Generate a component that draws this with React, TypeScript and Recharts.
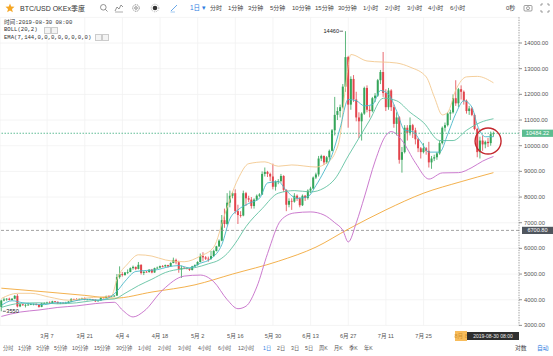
import React from "react";
import {
  ComposedChart,
  Bar,
  Line,
  XAxis,
  YAxis,
  CartesianGrid,
  ReferenceLine,
  ReferenceDot,
} from "recharts";

type Ohlc = [number, number, number, number];

// Daily candles [open, high, low, close]
const febOhlc: Ohlc[] = [
  [3720, 4000, 3550, 3970], [3970, 4080, 3940, 4010], [4010, 4060, 3960, 4040],
  [4040, 4080, 3970, 3990], [3990, 4060, 3970, 4040], [4040, 4180, 4020, 4150],
  [4150, 4220, 3700, 3740], [3740, 3850, 3710, 3820], [3820, 3840, 3760, 3790],
  [3790, 3830, 3700, 3800], [3800, 3880, 3770, 3810],
];
const marOhlc: Ohlc[] = [
  [3810, 3860, 3790, 3830], [3830, 3850, 3780, 3840], [3840, 3850, 3780, 3800],
  [3800, 3820, 3690, 3720], [3720, 3880, 3710, 3860], [3860, 3900, 3830, 3870],
  [3870, 3920, 3850, 3890], [3890, 3940, 3840, 3870], [3870, 3960, 3860, 3940],
  [3940, 3950, 3890, 3920], [3920, 3930, 3840, 3860], [3860, 3900, 3830, 3880],
  [3880, 3900, 3850, 3870], [3870, 3920, 3840, 3880], [3880, 3940, 3870, 3930],
  [3930, 4060, 3920, 4030], [4030, 4040, 3980, 4000], [4000, 4060, 3980, 3990],
  [3990, 4050, 3980, 4030], [4030, 4080, 4000, 4060], [4060, 4090, 3980, 4000],
  [4000, 4030, 3990, 4010], [4010, 4040, 4000, 4020], [4020, 4030, 3980, 4000],
  [4000, 4010, 3910, 3940], [3940, 3980, 3930, 3970], [3970, 4100, 3960, 4090],
  [4090, 4100, 4050, 4070], [4070, 4160, 4060, 4140], [4140, 4170, 4100, 4130],
  [4130, 4150, 4110, 4130],
];
const aprOhlc: Ohlc[] = [
  [4130, 4180, 4110, 4160], [4160, 5000, 4150, 4880], [4880, 5300, 4820, 5000],
  [5000, 5080, 4900, 4960], [4960, 5080, 4940, 5060], [5060, 5180, 5000, 5080],
  [5080, 5260, 5070, 5230], [5230, 5330, 5170, 5280], [5280, 5290, 5150, 5200],
  [5200, 5470, 5180, 5360], [5360, 5380, 4980, 5040], [5040, 5110, 4960, 5090],
  [5090, 5120, 5060, 5080], [5080, 5190, 5050, 5170], [5170, 5200, 5030, 5060],
  [5060, 5250, 5050, 5230], [5230, 5290, 5200, 5250], [5250, 5330, 5230, 5310],
  [5310, 5350, 5260, 5300], [5300, 5370, 5280, 5350], [5350, 5360, 5250, 5300],
  [5300, 5460, 5280, 5430], [5430, 5640, 5420, 5550], [5550, 5600, 5380, 5460],
  [5460, 5520, 5050, 5180], [5180, 5330, 4850, 5240], [5240, 5280, 5200, 5230],
  [5230, 5260, 5180, 5210], [5210, 5230, 5120, 5160], [5160, 5320, 5140, 5300],
];
const mayOhlc: Ohlc[] = [
  [5300, 5380, 5280, 5350], [5350, 5500, 5330, 5470], [5470, 5800, 5450, 5700],
  [5700, 5850, 5500, 5650], [5650, 5700, 5550, 5600], [5600, 5680, 5480, 5580],
  [5580, 5900, 5570, 5700], [5700, 5950, 5680, 5900], [5900, 6100, 5880, 6080],
  [6080, 6350, 6050, 6300], [6300, 7300, 6280, 7100], [7100, 7550, 6800, 6950],
  [6950, 8150, 6900, 7780], [7780, 8250, 7600, 8050], [8050, 8200, 7950, 8150],
  [8150, 8300, 7350, 7450], [7450, 7700, 6950, 7300], [7300, 7450, 7200, 7280],
  [7280, 8250, 7250, 8150], [8150, 8200, 7650, 7950], [7950, 8050, 7800, 7900],
  [7900, 8000, 7550, 7650], [7650, 7950, 7550, 7900], [7900, 8100, 7850, 8050],
  [8050, 8150, 8000, 8100], [8100, 9000, 8080, 8900], [8900, 9150, 8800, 8980],
  [8980, 9020, 8780, 8900], [8900, 8950, 8620, 8800], [8800, 9300, 8300, 8400],
  [8400, 8650, 8250, 8600],
];
const junOhlc: Ohlc[] = [
  [8600, 8700, 8500, 8620], [8620, 8900, 8560, 8820], [8820, 8850, 8200, 8280],
  [8280, 8300, 7450, 7700], [7700, 7950, 7600, 7850], [7850, 7950, 7500, 7820],
  [7820, 8150, 7780, 8050], [8050, 8100, 7850, 7950], [7950, 7990, 7600, 7680],
  [7680, 8100, 7650, 8050], [8050, 8080, 7850, 7960], [7960, 8300, 7900, 8250],
  [8250, 8400, 8150, 8330], [8330, 8800, 8300, 8760], [8760, 8950, 8700, 8880],
  [8880, 9600, 8800, 9500], [9500, 9650, 9400, 9600], [9600, 9620, 9250, 9350],
  [9350, 9600, 9300, 9550], [9550, 9850, 9450, 9800], [9800, 10650, 9780, 10600],
  [10600, 11900, 10400, 11200], [11200, 11500, 11000, 11350], [11350, 11600, 11100, 11500],
  [11500, 12400, 11450, 12300], [12300, 14460, 12100, 13450], [13450, 13500, 10700, 11600],
  [11600, 12700, 11400, 12600], [12600, 12750, 11700, 11800], [11800, 12100, 10950, 11100],
];
const julOhlc: Ohlc[] = [
  [11100, 11300, 10300, 10950], [10950, 11300, 10200, 11250], [11250, 12300, 11200, 12250],
  [12250, 12350, 11300, 11400], [11400, 11550, 11100, 11350], [11350, 11900, 11300, 11850],
  [11850, 12050, 11700, 11950], [11950, 12600, 11900, 12550], [12550, 12950, 12400, 12870],
  [12870, 13650, 11900, 12050], [12050, 12200, 11350, 11500], [11500, 12250, 11400, 12150],
  [12150, 12200, 11350, 11500], [11500, 11600, 10700, 10850], [10850, 11300, 10400, 11100],
  [11100, 11150, 9300, 9450], [9450, 9950, 8950, 9750], [9750, 10800, 9700, 10700],
  [10700, 10800, 10200, 10500], [10500, 11100, 10400, 10800], [10800, 10850, 10300, 10600],
  [10600, 10700, 10050, 10250], [10250, 10300, 9750, 9900], [9900, 9950, 9500, 9750],
  [9750, 10100, 9700, 9900], [9900, 9950, 9650, 9800], [9800, 10150, 9150, 9350],
  [9350, 9600, 9100, 9500], [9500, 9650, 9400, 9550], [9550, 9750, 9450, 9700],
  [9700, 10200, 9650, 10100],
];
const augOhlc: Ohlc[] = [
  [10100, 10750, 10050, 10700], [10700, 10900, 10550, 10800], [10800, 11300, 10750, 11250],
  [11250, 11400, 11000, 11300], [11300, 12000, 11250, 11850], [11850, 12550, 11550, 11650],
  [11650, 12250, 11500, 12200], [12200, 12350, 11800, 12100], [12100, 12150, 11600, 11750],
  [11750, 11800, 11250, 11350], [11350, 11550, 11200, 11450], [11450, 11500, 11150, 11200],
  [11200, 11250, 10600, 10650], [10650, 10700, 9550, 9750], [9750, 10350, 9500, 10200],
  [10200, 10400, 9800, 10050], [10050, 10200, 9900, 10150], [10150, 10300, 9950, 10100],
  [10100, 10550, 10000, 10450], [10450, 10550, 10350, 10484.22],
];

const monthBlocks = [
  { month: 2, firstDay: 18, rows: febOhlc },
  { month: 3, firstDay: 1, rows: marOhlc },
  { month: 4, firstDay: 1, rows: aprOhlc },
  { month: 5, firstDay: 1, rows: mayOhlc },
  { month: 6, firstDay: 1, rows: junOhlc },
  { month: 7, firstDay: 1, rows: julOhlc },
  { month: 8, firstDay: 1, rows: augOhlc },
];

// Indicator readings (date key -> value)
const bollUpperPts: [string, number][] = [
  ["2-18", 4050], ["2-24", 4250], ["3-1", 4250], ["3-8", 4100], ["3-15", 3980], ["3-22", 4070],
  ["3-31", 4160], ["4-2", 4800], ["4-6", 5400], ["4-10", 5750], ["4-15", 5700], ["4-20", 5550],
  ["4-27", 5480], ["5-3", 5700], ["5-8", 6050], ["5-12", 7300], ["5-17", 8700], ["5-21", 9300],
  ["5-27", 9370], ["6-1", 9200], ["6-6", 9250], ["6-15", 9170], ["6-19", 9330], ["6-22", 9700],
  ["6-24", 10400], ["6-26", 12300], ["6-28", 13550], ["7-4", 13300], ["7-15", 13220], ["7-20", 13060],
  ["7-26", 12680], ["7-29", 11900], ["8-1", 11200], ["8-3", 11300], ["8-6", 12170], ["8-10", 12680],
  ["8-14", 12700], ["8-20", 12450],
];
const bollMidPts: [string, number][] = [
  ["2-18", 3700], ["2-25", 3860], ["3-4", 3880], ["3-11", 3840], ["3-18", 3880], ["3-25", 3980],
  ["4-1", 4030], ["4-5", 4250], ["4-10", 4550], ["4-15", 4800], ["4-20", 5060], ["4-26", 5200],
  ["5-1", 5250], ["5-6", 5400], ["5-10", 5550], ["5-13", 5800], ["5-16", 6200], ["5-20", 6850],
  ["5-26", 7550], ["6-1", 8150], ["6-7", 8250], ["6-13", 8200], ["6-18", 8350], ["6-22", 8700],
  ["6-27", 9600], ["7-1", 10300], ["7-5", 11000], ["7-10", 11850], ["7-15", 11750], ["7-20", 11300],
  ["7-25", 10900], ["7-31", 10200], ["8-5", 10200], ["8-10", 10600], ["8-15", 10900], ["8-20", 11050],
];
const bollLowerPts: [string, number][] = [
  ["2-18", 3350], ["2-25", 3520], ["3-4", 3600], ["3-11", 3700], ["3-18", 3760], ["3-25", 3850],
  ["4-1", 3900], ["4-4", 3600], ["4-8", 3330], ["4-12", 3550], ["4-19", 4380], ["4-27", 4920],
  ["5-3", 4960], ["5-8", 4700], ["5-13", 4000], ["5-17", 3650], ["5-20", 3750], ["5-24", 4500],
  ["5-28", 5800], ["6-2", 7100], ["6-7", 7380], ["6-13", 7420], ["6-18", 7300], ["6-22", 7000],
  ["6-25", 6700], ["6-27", 6250], ["6-30", 7000], ["7-3", 8000], ["7-7", 9400], ["7-11", 10400],
  ["7-13", 10550], ["7-17", 10200], ["7-22", 9330], ["7-27", 8700], ["8-1", 8940], ["8-7", 8950],
  ["8-12", 9150], ["8-16", 9400], ["8-20", 9580],
];
const ema7Pts: [string, number][] = [
  ["2-18", 3780], ["2-22", 3960], ["2-26", 3880], ["3-2", 3830], ["3-6", 3810], ["3-10", 3880],
  ["3-14", 3880], ["3-18", 3970], ["3-22", 4020], ["3-26", 3980], ["3-30", 4080], ["4-2", 4330],
  ["4-5", 4720], ["4-9", 5100], ["4-13", 5140], ["4-17", 5170], ["4-21", 5280], ["4-25", 5330],
  ["4-29", 5240], ["5-3", 5420], ["5-7", 5600], ["5-11", 6150], ["5-14", 7150], ["5-17", 7500],
  ["5-21", 7750], ["5-25", 7950], ["5-28", 8550], ["6-1", 8600], ["6-4", 8250], ["6-8", 7950],
  ["6-12", 8020], ["6-15", 8450], ["6-18", 9000], ["6-21", 9650], ["6-24", 10700], ["6-27", 11800],
  ["6-30", 11750], ["7-3", 11550], ["7-6", 11600], ["7-9", 12150], ["7-12", 12000], ["7-15", 11350],
  ["7-18", 10600], ["7-21", 10550], ["7-24", 10150], ["7-27", 9750], ["7-31", 9750], ["8-3", 10450],
  ["8-6", 11250], ["8-9", 11750], ["8-12", 11500], ["8-14", 10800], ["8-17", 10350], ["8-20", 10350],
];
const ema144Pts: [string, number][] = [
  ["2-18", 4450], ["3-7", 4300], ["3-21", 4170], ["4-1", 4060], ["4-15", 4300], ["5-1", 4580],
  ["5-15", 5000], ["6-1", 5500], ["6-15", 6050], ["6-27", 6750], ["7-11", 7500], ["7-25", 8150],
  ["8-8", 8600], ["8-20", 8950],
];

const xTickDates = ["3-7", "3-21", "4-4", "4-18", "5-2", "5-16", "5-30", "6-13", "6-27", "7-11", "7-25", "8-8"];
const yTickValues = [3000, 4000, 5000, 6000, 7000, 8000, 9000, 10000, 11000, 12000, 13000, 14000];

const lastPrice = 10484.22;
const markPrice = 6700.8;
const highDate = "6-26";
const highPrice = 14460;
const lowDate = "2-18";
const lowPrice = 3550;
const circleDate = "8-18";
const circlePrice = 10180;

const topMenu = ["分时", "1分钟", "3分钟", "5分钟", "10分钟", "15分钟", "30分钟", "1小时", "2小时", "3小时", "4小时", "6小时"];
const topMenuX = [210, 228, 248, 270, 292, 315, 338, 363, 385, 407, 428, 450];
const bottomMenu = ["分时", "1分钟", "3分钟", "5分钟", "10分钟", "15分钟", "30分钟", "1小时", "2小时", "3小时", "4小时", "6小时", "12小时", "1日", "2日", "3日", "5日", "周K", "月K", "季K", "年K"];
const bottomMenuX = [3, 18, 36, 54, 72, 94, 116, 138, 158, 178, 198, 218, 238, 263, 277, 291, 305, 319, 334, 349, 364];

// ---------- build table ----------
type Row = { key: string; o: number; h: number; l: number; c: number; [k: string]: any };
const rows: Row[] = [];
monthBlocks.forEach((b) =>
  b.rows.forEach((r, i) =>
    rows.push({ key: `${b.month}-${b.firstDay + i}`, o: r[0], h: r[1], l: r[2], c: r[3] })
  )
);
const byKey = new Map(rows.map((r) => [r.key, r]));
const attach = (pts: [string, number][], field: string) =>
  pts.forEach(([k, v]) => {
    const r = byKey.get(k);
    if (r) r[field] = v;
  });
attach(bollUpperPts, "bu");
attach(bollMidPts, "bm");
attach(bollLowerPts, "bl");
attach(ema7Pts, "e7");
attach(ema144Pts, "e144");

const GREEN = "#35a55a";
const RED = "#e2444c";
const FONT = "'Liberation Sans','Noto Sans CJK SC',sans-serif";
const MONO = "'Liberation Mono','DejaVu Sans Mono','Noto Sans CJK SC',monospace";

function Candle(props: any) {
  const { x, y, width, height, payload } = props;
  if (!payload || payload.o == null) return null;
  const { o, h, l, c } = payload;
  const cx = x + width / 2;
  const span = h - l;
  const toY = (v: number) => (span === 0 ? y : y + ((h - v) / span) * height);
  const top = toY(Math.max(o, c));
  const bot = toY(Math.min(o, c));
  const color = c >= o ? GREEN : RED;
  return (
    <g>
      <line x1={cx} x2={cx} y1={y} y2={y + height} stroke={color} strokeWidth={0.8} />
      <rect x={cx - 1} y={top} width={2} height={Math.max(bot - top, 0.8)} fill={color} />
    </g>
  );
}

function PriceTag(props: any) {
  const { viewBox, text, fill } = props;
  if (!viewBox) return null;
  const x = viewBox.x + viewBox.width + 3;
  const y = viewBox.y;
  return (
    <g>
      <rect x={x} y={y - 3.6} width={31} height={7.2} fill={fill} />
      <text x={x + 15.5} y={y + 2} textAnchor="middle" fontSize={5.6} fill="#fff" fontFamily={FONT}>
        {text}
      </text>
    </g>
  );
}

function HighLabel(props: any) {
  const { viewBox } = props;
  if (!viewBox) return null;
  const cx = viewBox.x + viewBox.width / 2;
  const cy = viewBox.y + viewBox.height / 2;
  return (
    <g>
      <line x1={cx - 6} x2={cx - 2.5} y1={cy} y2={cy} stroke="#333" strokeWidth={0.7} />
      <text x={cx - 6.5} y={cy + 2} textAnchor="end" fontSize={5.6} fill="#222" fontFamily={FONT}>
        {String(highPrice)}
      </text>
    </g>
  );
}

function LowLabel(props: any) {
  const { viewBox } = props;
  if (!viewBox) return null;
  const cx = viewBox.x + viewBox.width / 2;
  const cy = viewBox.y + viewBox.height / 2;
  return (
    <g>
      <line x1={cx + 1.5} x2={cx + 4.5} y1={cy} y2={cy} stroke="#333" strokeWidth={0.7} />
      <text x={cx + 5} y={cy + 2} textAnchor="start" fontSize={5.6} fill="#222" fontFamily={FONT}>
        {String(lowPrice)}
      </text>
    </g>
  );
}

function XTick(props: any) {
  const { x, y, payload } = props;
  const [m, d] = String(payload.value).split("-");
  return (
    <text x={x} y={y + 12.6} textAnchor="middle" fontSize={5.6} fill="#555" fontFamily={FONT}>
      {`${m}月 ${d}`}
    </text>
  );
}

const Icon = ({ x, children }: { x: number; children: React.ReactNode }) => (
  <svg style={{ position: "absolute", left: x, top: 3 }} width={10} height={10} viewBox="0 0 10 10">
    {children}
  </svg>
);

export default function App() {
  const abs = (left: number, top: number, extra: React.CSSProperties = {}): React.CSSProperties => ({
    position: "absolute",
    left,
    top,
    whiteSpace: "nowrap",
    lineHeight: 1,
    ...extra,
  });
  return (
    <div
      style={{
        position: "fixed",
        left: 0,
        top: 0,
        width: 553,
        height: 356,
        background: "#fff",
        overflow: "hidden",
        fontFamily: FONT,
      }}
    >
      <ComposedChart
        width={553}
        height={356}
        data={rows}
        margin={{ top: 17.33, right: 0, bottom: 18.6, left: 0 }}
      >
        <CartesianGrid stroke="#f1f1f1" strokeWidth={0.8} />
        <XAxis
          dataKey="key"
          ticks={xTickDates}
          interval={0}
          axisLine={false}
          tickLine={false}
          tickSize={0}
          tickMargin={0}
          height={12}
          padding={{ left: 0, right: 24.2 }}
          tick={<XTick />}
        />
        <YAxis
          orientation="right"
          width={34}
          domain={[3000, 15000]}
          ticks={yTickValues}
          allowDataOverflow
          axisLine={{ stroke: "#777", strokeDasharray: "1 1.5", strokeWidth: 0.8 }}
          tickLine={{ stroke: "#777", strokeWidth: 0.8 }}
          tickSize={3}
          tickMargin={2}
          tick={{ fontSize: 5.8, fill: "#555", fontFamily: FONT }}
          tickFormatter={(v: number) => v.toFixed(2)}
        />
        <ReferenceLine
          y={markPrice}
          stroke="#8a8a8a"
          strokeDasharray="3 2"
          strokeWidth={0.8}
          label={<PriceTag text="6700.80" fill="#50565e" />}
        />
        <ReferenceLine
          y={lastPrice}
          stroke="#4fb58a"
          strokeDasharray="1.5 1.5"
          strokeWidth={0.9}
          label={<PriceTag text="10484.22" fill="#5cbd90" />}
        />
        <Bar
          dataKey={(d: Row) => [d.l, d.h]}
          shape={<Candle />}
          isAnimationActive={false}
        />
        <Line dataKey="e144" stroke="#f2a83a" strokeWidth={0.9} dot={false} connectNulls type="monotone" isAnimationActive={false} />
        <Line dataKey="bu" stroke="#f3c88e" strokeWidth={0.9} dot={false} connectNulls type="monotone" isAnimationActive={false} />
        <Line dataKey="bl" stroke="#c56cc8" strokeWidth={0.9} dot={false} connectNulls type="monotone" isAnimationActive={false} />
        <Line dataKey="bm" stroke="#62c2a2" strokeWidth={0.9} dot={false} connectNulls type="monotone" isAnimationActive={false} />
        <Line dataKey="e7" stroke="#48b8c8" strokeWidth={0.9} dot={false} connectNulls type="monotone" isAnimationActive={false} />
        <ReferenceDot x={highDate} y={highPrice} r={0} fill="none" stroke="none" ifOverflow="visible" label={<HighLabel />} />
        <ReferenceDot x={lowDate} y={lowPrice} r={0} fill="none" stroke="none" ifOverflow="visible" label={<LowLabel />} />
        <ReferenceDot
          x={circleDate}
          y={circlePrice}
          r={13}
          fill="none"
          stroke="#c4282e"
          strokeWidth={1.4}
          ifOverflow="visible"
        />
      </ComposedChart>

      {/* top toolbar */}
      <svg style={{ position: "absolute", left: 5, top: 3 }} width={10} height={10} viewBox="0 0 10 10">
        <polygon points="5,0.5 6.2,3.6 9.5,3.8 7,5.9 7.8,9.2 5,7.4 2.2,9.2 3,5.9 0.5,3.8 3.8,3.6" fill="#f5a623" />
      </svg>
      <div style={abs(20, 4.5, { fontSize: 7, color: "#333" })}>BTC/USD OKEx季度</div>
      <Icon x={99}>
        <circle cx={4.3} cy={4.3} r={2.8} fill="none" stroke="#777" strokeWidth={0.8} />
        <line x1={6.3} y1={6.3} x2={8.5} y2={8.5} stroke="#777" strokeWidth={0.8} />
      </Icon>
      <Icon x={114}>
        <polyline points="1,8 3,4 5,6 7,2 9,4" fill="none" stroke="#777" strokeWidth={0.8} />
        <line x1={1} y1={9} x2={9} y2={9} stroke="#777" strokeWidth={0.6} />
      </Icon>
      <Icon x={131}>
        <circle cx={5} cy={5} r={3.3} fill="none" stroke="#777" strokeWidth={0.8} strokeDasharray="1.5 0.8" />
        <circle cx={5} cy={5} r={1.3} fill="none" stroke="#777" strokeWidth={0.8} />
      </Icon>
      <Icon x={150}>
        <circle cx={5} cy={5} r={2.3} fill="#333" />
        <circle cx={5} cy={5} r={3.8} fill="none" stroke="#777" strokeWidth={0.6} strokeDasharray="1 1" />
      </Icon>
      <Icon x={169}>
        <line x1={2} y1={8} x2={8} y2={2} stroke="#6aa8e8" strokeWidth={1} />
        <line x1={1.5} y1={9} x2={6} y2={9} stroke="#6aa8e8" strokeWidth={0.6} />
      </Icon>
      <div style={abs(190, 5, { fontSize: 6.5, color: "#2f7de1" })}>1日 ▾</div>
      {topMenu.map((t, i) => (
        <div key={t} style={abs(topMenuX[i], 5, { fontSize: 6, color: "#444" })}>
          {t}
        </div>
      ))}
      <div style={abs(506, 5, { fontSize: 6, color: "#444" })}>0秒</div>
      <Icon x={523}>
        <rect x={1} y={2.5} width={8} height={5.5} rx={1} fill="none" stroke="#777" strokeWidth={0.7} />
        <circle cx={5} cy={5.2} r={1.5} fill="none" stroke="#777" strokeWidth={0.7} />
      </Icon>
      <Icon x={540}>
        <polyline points="1,3 1,1 3,1" fill="none" stroke="#777" strokeWidth={0.7} />
        <polyline points="7,1 9,1 9,3" fill="none" stroke="#777" strokeWidth={0.7} />
        <polyline points="1,7 1,9 3,9" fill="none" stroke="#777" strokeWidth={0.7} />
        <polyline points="7,9 9,9 9,7" fill="none" stroke="#777" strokeWidth={0.7} />
      </Icon>

      {/* indicator legend */}
      <div style={abs(4, 19.5, { fontSize: 5.6, color: "#333", fontFamily: MONO })}>时间:2019-08-30 08:00</div>
      <div style={abs(4, 27, { fontSize: 5.6, color: "#333", fontFamily: MONO })}>BOLL(20,2)</div>
      <div style={abs(44, 26.5, { width: 5, height: 5, border: "0.6px solid #ccc", background: "#f4f4f4" })} />
      <div style={abs(51, 26.5, { width: 5, height: 5, border: "0.6px solid #ccc", background: "#f4f4f4" })} />
      <div style={abs(4, 34.5, { fontSize: 5.6, color: "#333", fontFamily: MONO })}>EMA(7,144,0,0,0,0,0,0,0,0)</div>
      <div style={abs(95, 34, { width: 5, height: 5, border: "0.6px solid #ccc", background: "#f4f4f4" })} />
      <div style={abs(102, 34, { width: 5, height: 5, border: "0.6px solid #ccc", background: "#f4f4f4" })} />

      {/* bottom time box */}
      <div style={abs(455, 331, { width: 12, height: 10, background: "rgba(245,166,35,0.75)" })} />
      <div
        style={abs(467, 332, {
          width: 52,
          height: 8,
          background: "#2f2f2f",
          color: "#eee",
          fontSize: 5,
          textAlign: "center",
          lineHeight: "8px",
        })}
      >
        2019-08-30 08:00
      </div>

      {/* bottom menu */}
      {bottomMenu.map((t, i) => (
        <div
          key={t + i}
          style={abs(bottomMenuX[i], 346, { fontSize: 5.2, color: t === "1日" ? "#2f7de1" : "#555" })}
        >
          {t}
        </div>
      ))}
      <div style={abs(515, 346, { fontSize: 5.8, color: "#444" })}>对数</div>
      <div style={abs(537, 346, { fontSize: 5.8, color: "#2f7de1" })}>自动</div>
    </div>
  );
}
